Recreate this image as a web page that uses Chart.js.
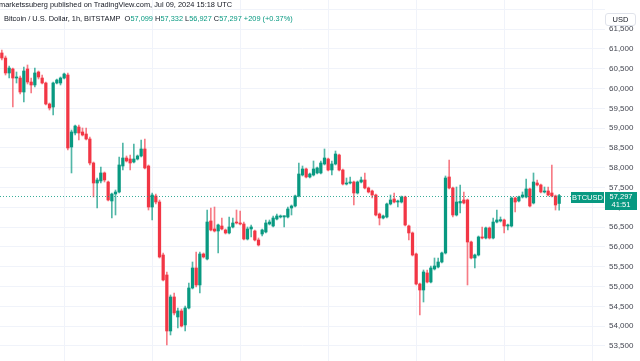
<!DOCTYPE html>
<html><head><meta charset="utf-8">
<script src="https://cdn.jsdelivr.net/npm/chart.js@4/dist/chart.umd.min.js"></script>
<style>
html,body{margin:0;padding:0;background:#fff;}
#wrap{position:relative;width:640px;height:361px;overflow:hidden;font-family:"Liberation Sans",Arial,sans-serif;}
#c{position:absolute;left:0;top:0;}
.h1{position:absolute;left:-1px;top:0px;font-size:7.4px;color:#131722;white-space:nowrap;line-height:9px;}
.h2{position:absolute;left:4px;top:14px;font-size:7.4px;color:#131722;white-space:nowrap;line-height:10px;}
.g{color:#089981}
.usd{position:absolute;left:605px;top:13px;width:31px;height:13px;border:1px solid #e0e3eb;border-radius:3px;background:#fff;font-size:7.5px;line-height:11px;text-align:center;color:#131722;box-sizing:border-box;}
</style></head>
<body><div id="wrap"><canvas id="c" width="640" height="361"></canvas>
<div class="h1">marketssuberg published on TradingView.com, Jul 09, 2024 15:18 UTC</div>
<div class="h2">Bitcoin / U.S. Dollar, 1h, BITSTAMP&nbsp;&nbsp;O<span class="g">57,099</span> H<span class="g">57,332</span> L<span class="g">56,927</span> C<span class="g">57,297</span> <span class="g">+209 (+0.37%)</span></div>
<div class="usd">USD</div>
</div>
<script>
// Hourly BTC/USD candles, Bitstamp, from Jul 3 2024 07:00 UTC to Jul 9 2024 15:00 UTC
const openPrices = [60899,60772,60394,60495,60267,60267,59914,60495,60166,60091,60419,60267,60141,59611,59535,60141,60141,60267,60343,58525,
58879,59030,58904,58853,58727,58121,57616,57667,57869,57641,57162,57338,57389,58045,58247,58222,58146,58222,58298,58475,
58045,57010,57288,57136,55798,55293,53879,54738,54233,54384,54031,54460,54965,55470,55041,55823,55697,56657,56455,56404,
56530,56429,56354,56505,56631,56606,56581,56202,56455,56404,56177,56328,56379,56581,56530,56707,56758,56758,56758,56985,
57035,57288,57818,57970,57768,57818,57869,57869,58096,58222,57944,58096,58323,57944,57591,57616,57641,57364,57641,57692,
57490,57414,57313,56833,56732,56758,57086,57212,57136,57136,57263,56530,56354,55823,55066,54914,55344,55116,55445,55495,
55621,55849,57768,57490,56808,57111,57187,57187,56126,55722,55798,56253,56227,56480,56227,56631,56657,56682,56530,56530,
57237,57162,57263,57263,57465,57111,57616,57566,57389,57414,57364,57288,57099];
const highPrices = [60975,60823,60570,60520,60419,60318,60545,60596,60267,60520,60444,60343,60166,59636,60166,60242,60293,60394,60394,58954,
59081,59081,59005,59005,58778,58146,57742,58020,57894,57667,57364,57439,58273,58626,58298,58323,58601,58323,58702,58727,
58071,57364,57338,57187,55849,55369,54788,54839,54460,54435,54510,55091,55621,55874,55874,55849,56934,56985,57010,56581,
56732,56455,56758,56732,56934,56909,56631,56505,56556,56429,56227,56455,56682,56682,56783,56833,56808,56783,57010,57061,
57313,58121,58045,57995,57869,58172,58020,58172,58475,58247,58172,58424,58348,57970,57742,57768,57667,57667,57768,57869,
57515,57439,57338,56859,56808,57111,57313,57364,57187,57288,57288,56556,56379,55849,55091,55419,55419,55520,55722,55722,
55874,57793,58197,57515,57515,57566,57389,57212,56152,55823,56278,56505,56505,56505,56732,56934,56758,56707,56581,57263,
57263,57288,57389,57717,57490,57869,57692,57591,57515,57515,58071,57313,57332];
const lowPrices = [60722,60343,60267,59535,60141,59863,59661,60116,59889,60040,60242,60116,59586,59459,59333,60116,60091,60242,58449,57869,
58828,58702,58803,58702,58071,57263,56985,57616,57641,57162,56732,56808,57364,57944,58146,57944,58121,58197,58273,57970,
56934,56682,57086,55722,55142,53526,53778,54283,53955,53980,53879,54435,54940,54990,54839,55722,55672,56404,56379,55849,
56429,56328,56328,56480,56581,56556,56177,56177,56253,56152,56025,56278,56354,56556,56505,56682,56732,56505,56732,56808,
57010,57263,57793,57742,57742,57793,57843,57843,58071,57919,57818,58071,57919,57566,57566,57591,57061,57338,57616,57465,
57364,57237,56783,56556,56707,56732,57061,57111,57010,57111,56530,56177,55773,55041,54283,54611,55091,55091,55419,55470,
55596,55823,57465,56758,56783,56859,57086,55041,55697,55470,55773,56202,56202,56202,56202,56606,56631,56354,56429,56505,
56884,57136,57237,57237,57010,57086,57540,57364,57364,57288,57263,56934,56927];
const closePrices = [60772,60394,60520,60267,60293,59914,60444,60166,60091,60394,60293,60141,59611,59510,60141,60217,60267,60368,58500,58904,
59055,58879,58828,58727,58121,57616,57692,57869,57692,57187,57338,57389,58071,58247,58172,58121,58222,58298,58475,57995,
57010,57313,57136,55748,55167,53879,54738,54334,54384,54005,54460,54965,55470,55041,55823,55748,56631,56429,56404,56556,
56455,56354,56505,56606,56606,56581,56202,56455,56505,56177,56051,56429,56606,56631,56732,56783,56783,56790,56960,57035,
57288,57843,57970,57768,57843,57970,57995,58121,58247,57944,58096,58348,57944,57591,57616,57641,57364,57641,57692,57490,
57389,57313,56808,56732,56783,57086,57187,57136,57162,57263,56556,56354,55798,55066,54914,55369,55116,55470,55520,55621,
55849,57742,57490,56808,57136,57150,57111,56126,55722,55798,56253,56227,56480,56227,56631,56682,56690,56530,56556,57237,
57136,57263,57313,57465,57035,57641,57566,57389,57414,57313,57288,57061,57297];
const lastPrice = 57297;
const countdown = "41:51";
const symbol = "BTCUSD";
const yTickValues = [53500,54000,54500,55000,55500,56000,56500,57000,57500,58000,58500,59000,59500,60000,60500,61000,61500,62000];
const emptySlotsRight = 12;

// hourly category labels
const hours = [];
(function(){
  const t0 = Date.UTC(2024,6,3,7);
  for (let i = 0; i < openPrices.length + emptySlotsRight; i++) {
    const d = new Date(t0 + i*3600000);
    hours.push(d.toISOString().slice(0,13).replace('T',' ') + ':00');
  }
})();

const UP = '#089981', DOWN = '#F23645';
const colors = openPrices.map((o,i)=> closePrices[i] >= o ? UP : DOWN);
const wickColors = openPrices.map((o,i)=> closePrices[i] >= o ? 'rgba(8,153,129,0.7)' : 'rgba(242,54,69,0.65)');
const bodies = openPrices.map((o,i)=>[o, closePrices[i]]);
const wicks = lowPrices.map((l,i)=>[l, highPrices[i]]);

const tagPlugin = {
  id:'tags',
  afterDraw(chart){
    const ctx = chart.ctx, y = Math.round(chart.scales.y.getPixelForValue(lastPrice));
    ctx.save();
    ctx.strokeStyle = 'rgba(8,153,129,0.8)';
    ctx.lineWidth = 1;
    ctx.setLineDash([1,2]);
    ctx.beginPath();
    ctx.moveTo(0, y+0.5);
    ctx.lineTo(571, y+0.5);
    ctx.stroke();
    ctx.setLineDash([]);
    ctx.fillStyle = UP;
    ctx.fillRect(571, y-4, 33, 11);
    ctx.fillRect(605, y-4, 32, 18);
    ctx.fillStyle = '#fff';
    ctx.font = '7.5px "Liberation Sans", Arial, sans-serif';
    ctx.textAlign = 'center';
    ctx.textBaseline = 'middle';
    ctx.fillText(symbol, 587.5, y+1.5);
    ctx.fillText(lastPrice.toLocaleString('en-US'), 621, y+1);
    ctx.fillText(countdown, 621, y+9);
    ctx.restore();
  }
};

new Chart(document.getElementById('c'), {
  type:'bar',
  data:{
    labels: hours,
    datasets:[
      {label:'body', data: bodies, backgroundColor: colors, barThickness: 2.6, minBarLength: 1, borderWidth:0, grouped:false, order:0},
      {label:'wick', data: wicks, backgroundColor: wickColors, barThickness: 1, borderWidth:0, grouped:false, order:1}
    ]
  },
  options:{
    responsive:false,
    animation:false,
    devicePixelRatio:1,
    layout:{padding:0},
    plugins:{legend:{display:false}, tooltip:{enabled:false}, title:{display:false}},
    scales:{
      x:{
        type:'category',
        offset:true,
        afterFit:(s)=>{ s.height = 0; s.paddingLeft = 0; s.paddingRight = 0; },
        ticks:{display:false, autoSkip:false},
        grid:{offset:false, drawTicks:false, color:(c)=> (c.tick && typeof c.tick.label==='string' && c.tick.label.slice(11,13)==='00') ? '#f0f3fa' : 'rgba(0,0,0,0)'},
        border:{display:false}
      },
      y:{
        position:'right',
        min:53121, max:62237,
        afterFit:(s)=>{ s.width = 35; s.paddingTop = 0; s.paddingBottom = 0; },
        afterBuildTicks:(s)=>{ s.ticks = yTickValues.map(v=>({value:v})); },
        ticks:{padding:4, color:'#434651',
          font:{family:'"Liberation Sans", Arial, sans-serif', size:8},
          callback:(v)=> v > 61600 ? '' : Number(v).toLocaleString('en-US')},
        grid:{drawTicks:false, color:'#f0f3fa'},
        border:{display:false}
      }
    }
  },
  plugins:[tagPlugin]
});
</script>
</body></html>
